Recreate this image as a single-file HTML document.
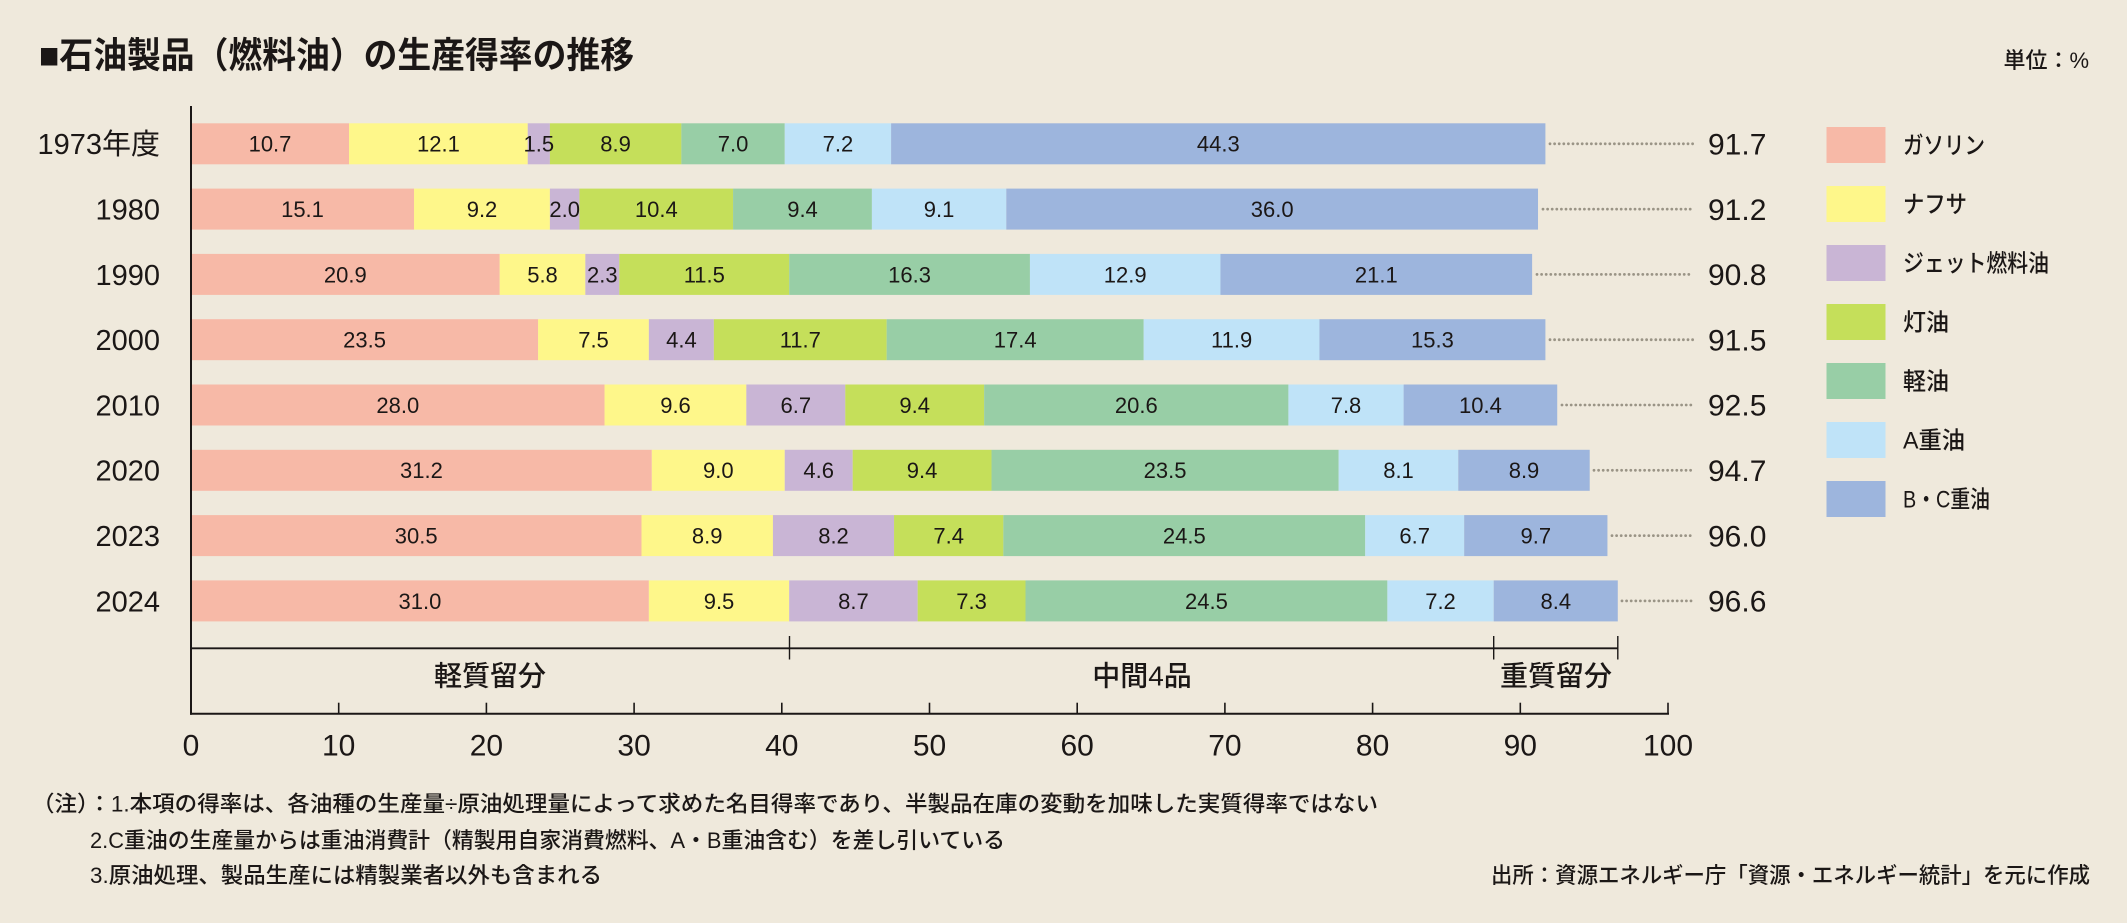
<!DOCTYPE html>
<html><head><meta charset="utf-8"><style>
html,body{margin:0;padding:0;background:#efe9dc;}
svg{display:block;}
text{font-family:"Liberation Sans","Noto Sans CJK JP",sans-serif;fill:#1b1716;}
.cj{font-family:"Liberation Sans","Noto Sans CJK JP",sans-serif;font-weight:500;}
.bl{font-size:22px;text-anchor:middle;}
.rl{font-size:29px;text-anchor:end;}
.tot{font-size:30px;}
.tk{font-size:30px;text-anchor:middle;}
</style></head><body>
<svg width="2127" height="923" viewBox="0 0 2127 923" xmlns="http://www.w3.org/2000/svg">
<rect width="2127" height="923" fill="#efe9dc"/>
<text x="39" y="67.5" font-size="36" font-weight="700" textLength="595" lengthAdjust="spacingAndGlyphs" class="cj" style="font-weight:700">■石油製品（燃料油）の生産得率の推移</text>
<text x="2089" y="68" font-size="22" text-anchor="end" class="cj">単位：%</text>

<g>
<!-- Row 0 -->
<rect x="191" y="123.3" width="158.04" height="41" fill="#f7b9a7"/>
<rect x="349.04" y="123.3" width="178.72" height="41" fill="#fef78a"/>
<rect x="527.76" y="123.3" width="22.15" height="41" fill="#c9b5d5"/>
<rect x="549.91" y="123.3" width="131.45" height="41" fill="#c5df5a"/>
<rect x="681.36" y="123.3" width="103.39" height="41" fill="#98cea6"/>
<rect x="784.75" y="123.3" width="106.35" height="41" fill="#bfe3f8"/>
<rect x="891.10" y="123.3" width="654.31" height="41" fill="#9db5dd"/>
<!-- Row 1 -->
<rect x="191" y="188.6" width="223.03" height="41" fill="#f7b9a7"/>
<rect x="414.03" y="188.6" width="135.88" height="41" fill="#fef78a"/>
<rect x="549.91" y="188.6" width="29.54" height="41" fill="#c9b5d5"/>
<rect x="579.45" y="188.6" width="153.61" height="41" fill="#c5df5a"/>
<rect x="733.06" y="188.6" width="138.84" height="41" fill="#98cea6"/>
<rect x="871.90" y="188.6" width="134.40" height="41" fill="#bfe3f8"/>
<rect x="1006.30" y="188.6" width="531.72" height="41" fill="#9db5dd"/>
<!-- Row 2 -->
<rect x="191" y="253.9" width="308.69" height="41" fill="#f7b9a7"/>
<rect x="499.69" y="253.9" width="85.67" height="41" fill="#fef78a"/>
<rect x="585.36" y="253.9" width="33.97" height="41" fill="#c9b5d5"/>
<rect x="619.33" y="253.9" width="169.86" height="41" fill="#c5df5a"/>
<rect x="789.19" y="253.9" width="240.75" height="41" fill="#98cea6"/>
<rect x="1029.94" y="253.9" width="190.53" height="41" fill="#bfe3f8"/>
<rect x="1220.47" y="253.9" width="311.65" height="41" fill="#9db5dd"/>
<!-- Row 3 -->
<rect x="191" y="319.2" width="347.10" height="41" fill="#f7b9a7"/>
<rect x="538.10" y="319.2" width="110.77" height="41" fill="#fef78a"/>
<rect x="648.87" y="319.2" width="64.99" height="41" fill="#c9b5d5"/>
<rect x="713.86" y="319.2" width="172.81" height="41" fill="#c5df5a"/>
<rect x="886.67" y="319.2" width="257.00" height="41" fill="#98cea6"/>
<rect x="1143.67" y="319.2" width="175.76" height="41" fill="#bfe3f8"/>
<rect x="1319.43" y="319.2" width="225.98" height="41" fill="#9db5dd"/>
<!-- Row 4 -->
<rect x="191" y="384.5" width="413.56" height="41" fill="#f7b9a7"/>
<rect x="604.56" y="384.5" width="141.79" height="41" fill="#fef78a"/>
<rect x="746.35" y="384.5" width="98.96" height="41" fill="#c9b5d5"/>
<rect x="845.31" y="384.5" width="138.84" height="41" fill="#c5df5a"/>
<rect x="984.15" y="384.5" width="304.26" height="41" fill="#98cea6"/>
<rect x="1288.41" y="384.5" width="115.21" height="41" fill="#bfe3f8"/>
<rect x="1403.62" y="384.5" width="153.61" height="41" fill="#9db5dd"/>
<!-- Row 5 -->
<rect x="191" y="449.8" width="460.82" height="41" fill="#f7b9a7"/>
<rect x="651.82" y="449.8" width="132.93" height="41" fill="#fef78a"/>
<rect x="784.75" y="449.8" width="67.95" height="41" fill="#c9b5d5"/>
<rect x="852.70" y="449.8" width="138.83" height="41" fill="#c5df5a"/>
<rect x="991.53" y="449.8" width="347.10" height="41" fill="#98cea6"/>
<rect x="1338.63" y="449.8" width="119.64" height="41" fill="#bfe3f8"/>
<rect x="1458.27" y="449.8" width="131.45" height="41" fill="#9db5dd"/>
<!-- Row 6 -->
<rect x="191" y="515.1" width="450.49" height="41" fill="#f7b9a7"/>
<rect x="641.49" y="515.1" width="131.45" height="41" fill="#fef78a"/>
<rect x="772.94" y="515.1" width="121.11" height="41" fill="#c9b5d5"/>
<rect x="894.05" y="515.1" width="109.30" height="41" fill="#c5df5a"/>
<rect x="1003.35" y="515.1" width="361.87" height="41" fill="#98cea6"/>
<rect x="1365.22" y="515.1" width="98.95" height="41" fill="#bfe3f8"/>
<rect x="1464.17" y="515.1" width="143.27" height="41" fill="#9db5dd"/>
<!-- Row 7 -->
<rect x="191" y="580.4" width="457.87" height="41" fill="#f7b9a7"/>
<rect x="648.87" y="580.4" width="140.32" height="41" fill="#fef78a"/>
<rect x="789.19" y="580.4" width="128.49" height="41" fill="#c9b5d5"/>
<rect x="917.68" y="580.4" width="107.83" height="41" fill="#c5df5a"/>
<rect x="1025.51" y="580.4" width="361.86" height="41" fill="#98cea6"/>
<rect x="1387.37" y="580.4" width="106.34" height="41" fill="#bfe3f8"/>
<rect x="1493.71" y="580.4" width="124.07" height="41" fill="#9db5dd"/>
</g>

<!-- bar labels -->
<g class="bl">
<text class="bl" x="270.0" y="151.7">10.7</text><text class="bl" x="438.4" y="151.7">12.1</text><text class="bl" x="538.8" y="151.7">1.5</text><text class="bl" x="615.6" y="151.7">8.9</text><text class="bl" x="733.1" y="151.7">7.0</text><text class="bl" x="837.9" y="151.7">7.2</text><text class="bl" x="1218.3" y="151.7">44.3</text>
<text class="bl" x="302.5" y="217.0">15.1</text><text class="bl" x="482.0" y="217.0">9.2</text><text class="bl" x="564.7" y="217.0">2.0</text><text class="bl" x="656.3" y="217.0">10.4</text><text class="bl" x="802.5" y="217.0">9.4</text><text class="bl" x="939.1" y="217.0">9.1</text><text class="bl" x="1272.2" y="217.0">36.0</text>
<text class="bl" x="345.3" y="282.3">20.9</text><text class="bl" x="542.5" y="282.3">5.8</text><text class="bl" x="602.3" y="282.3">2.3</text><text class="bl" x="704.3" y="282.3">11.5</text><text class="bl" x="909.6" y="282.3">16.3</text><text class="bl" x="1125.2" y="282.3">12.9</text><text class="bl" x="1376.3" y="282.3">21.1</text>
<text class="bl" x="364.6" y="347.6">23.5</text><text class="bl" x="593.5" y="347.6">7.5</text><text class="bl" x="681.4" y="347.6">4.4</text><text class="bl" x="800.3" y="347.6">11.7</text><text class="bl" x="1015.2" y="347.6">17.4</text><text class="bl" x="1231.6" y="347.6">11.9</text><text class="bl" x="1432.4" y="347.6">15.3</text>
<text class="bl" x="397.8" y="412.9">28.0</text><text class="bl" x="675.5" y="412.9">9.6</text><text class="bl" x="795.8" y="412.9">6.7</text><text class="bl" x="914.7" y="412.9">9.4</text><text class="bl" x="1136.3" y="412.9">20.6</text><text class="bl" x="1346.0" y="412.9">7.8</text><text class="bl" x="1480.4" y="412.9">10.4</text>
<text class="bl" x="421.4" y="478.2">31.2</text><text class="bl" x="718.3" y="478.2">9.0</text><text class="bl" x="818.7" y="478.2">4.6</text><text class="bl" x="922.1" y="478.2">9.4</text><text class="bl" x="1165.1" y="478.2">23.5</text><text class="bl" x="1398.5" y="478.2">8.1</text><text class="bl" x="1524.0" y="478.2">8.9</text>
<text class="bl" x="416.2" y="543.5">30.5</text><text class="bl" x="707.2" y="543.5">8.9</text><text class="bl" x="833.5" y="543.5">8.2</text><text class="bl" x="948.7" y="543.5">7.4</text><text class="bl" x="1184.3" y="543.5">24.5</text><text class="bl" x="1414.7" y="543.5">6.7</text><text class="bl" x="1535.8" y="543.5">9.7</text>
<text class="bl" x="419.9" y="608.8">31.0</text><text class="bl" x="719.0" y="608.8">9.5</text><text class="bl" x="853.4" y="608.8">8.7</text><text class="bl" x="971.6" y="608.8">7.3</text><text class="bl" x="1206.4" y="608.8">24.5</text><text class="bl" x="1440.5" y="608.8">7.2</text><text class="bl" x="1555.8" y="608.8">8.4</text>
</g>

<!-- row labels -->
<text class="rl" x="160" y="154.2">1973年度</text>
<text class="rl" x="160" y="219.5">1980</text>
<text class="rl" x="160" y="284.8">1990</text>
<text class="rl" x="160" y="350.1">2000</text>
<text class="rl" x="160" y="415.4">2010</text>
<text class="rl" x="160" y="480.7">2020</text>
<text class="rl" x="160" y="546.0">2023</text>
<text class="rl" x="160" y="611.3">2024</text>

<!-- leaders -->
<g stroke="#9a9486" stroke-width="2.8" stroke-linecap="round" stroke-dasharray="0 4.6" fill="none">
<line x1="1550" y1="143.8" x2="1693" y2="143.8"/>
<line x1="1543" y1="209.1" x2="1693" y2="209.1"/>
<line x1="1537" y1="274.4" x2="1693" y2="274.4"/>
<line x1="1550" y1="339.7" x2="1693" y2="339.7"/>
<line x1="1562" y1="405.0" x2="1693" y2="405.0"/>
<line x1="1594" y1="470.3" x2="1693" y2="470.3"/>
<line x1="1612" y1="535.6" x2="1693" y2="535.6"/>
<line x1="1622" y1="600.9" x2="1693" y2="600.9"/>
</g>

<!-- totals -->
<text class="tot" x="1708" y="154.5">91.7</text>
<text class="tot" x="1708" y="219.8">91.2</text>
<text class="tot" x="1708" y="285.1">90.8</text>
<text class="tot" x="1708" y="350.4">91.5</text>
<text class="tot" x="1708" y="415.7">92.5</text>
<text class="tot" x="1708" y="481.0">94.7</text>
<text class="tot" x="1708" y="546.3">96.0</text>
<text class="tot" x="1708" y="611.6">96.6</text>

<!-- axes -->
<g stroke="#1b1716" fill="none">
<line x1="191" y1="106" x2="191" y2="714.7" stroke-width="2"/>
<line x1="190" y1="713.7" x2="1669" y2="713.7" stroke-width="2"/>
<line x1="338.7" y1="702.7" x2="338.7" y2="713.7" stroke-width="1.6"/>
<line x1="486.4" y1="702.7" x2="486.4" y2="713.7" stroke-width="1.6"/>
<line x1="634.1" y1="702.7" x2="634.1" y2="713.7" stroke-width="1.6"/>
<line x1="781.8" y1="702.7" x2="781.8" y2="713.7" stroke-width="1.6"/>
<line x1="929.5" y1="702.7" x2="929.5" y2="713.7" stroke-width="1.6"/>
<line x1="1077.2" y1="702.7" x2="1077.2" y2="713.7" stroke-width="1.6"/>
<line x1="1224.9" y1="702.7" x2="1224.9" y2="713.7" stroke-width="1.6"/>
<line x1="1372.6" y1="702.7" x2="1372.6" y2="713.7" stroke-width="1.6"/>
<line x1="1520.3" y1="702.7" x2="1520.3" y2="713.7" stroke-width="1.6"/>
<line x1="1668" y1="702.7" x2="1668" y2="713.7" stroke-width="1.6"/>
<!-- bracket -->
<line x1="191" y1="648.3" x2="1618" y2="648.3" stroke-width="1.8"/>
<line x1="789.5" y1="636" x2="789.5" y2="659.5" stroke-width="1.4"/>
<line x1="1493.7" y1="636" x2="1493.7" y2="659.5" stroke-width="1.4"/>
<line x1="1617.8" y1="636" x2="1617.8" y2="659.5" stroke-width="1.4"/>
</g>

<text x="490" y="685.5" font-size="28" text-anchor="middle" class="cj">軽質留分</text>
<text x="1142" y="685.5" font-size="28" text-anchor="middle" class="cj">中間4品</text>
<text x="1556" y="685.5" font-size="28" text-anchor="middle" class="cj">重質留分</text>

<!-- tick labels -->
<text class="tk" x="191" y="755.5">0</text>
<text class="tk" x="338.7" y="755.5">10</text>
<text class="tk" x="486.4" y="755.5">20</text>
<text class="tk" x="634.1" y="755.5">30</text>
<text class="tk" x="781.8" y="755.5">40</text>
<text class="tk" x="929.5" y="755.5">50</text>
<text class="tk" x="1077.2" y="755.5">60</text>
<text class="tk" x="1224.9" y="755.5">70</text>
<text class="tk" x="1372.6" y="755.5">80</text>
<text class="tk" x="1520.3" y="755.5">90</text>
<text class="tk" x="1668" y="755.5">100</text>

<!-- legend -->
<rect x="1826.5" y="127" width="59" height="36" fill="#f7b9a7"/>
<rect x="1826.5" y="186" width="59" height="36" fill="#fef78a"/>
<rect x="1826.5" y="245" width="59" height="36" fill="#c9b5d5"/>
<rect x="1826.5" y="304" width="59" height="36" fill="#c5df5a"/>
<rect x="1826.5" y="363" width="59" height="36" fill="#98cea6"/>
<rect x="1826.5" y="422" width="59" height="36" fill="#bfe3f8"/>
<rect x="1826.5" y="481" width="59" height="36" fill="#9db5dd"/>
<g font-size="24">
<text class="cj" x="1903" y="153.5" font-size="24" textLength="82" lengthAdjust="spacingAndGlyphs">ガソリン</text>
<text class="cj" x="1903" y="212.5" font-size="24" textLength="64" lengthAdjust="spacingAndGlyphs">ナフサ</text>
<text class="cj" x="1903" y="271.5" font-size="24" textLength="146" lengthAdjust="spacingAndGlyphs">ジェット燃料油</text>
<text class="cj" x="1903" y="330.5" font-size="24" textLength="46" lengthAdjust="spacingAndGlyphs">灯油</text>
<text class="cj" x="1903" y="389.5" font-size="24" textLength="46" lengthAdjust="spacingAndGlyphs">軽油</text>
<text class="cj" x="1903" y="448.5" font-size="24" textLength="62" lengthAdjust="spacingAndGlyphs">A重油</text>
<text class="cj" x="1903" y="507.5" font-size="24" textLength="87" lengthAdjust="spacingAndGlyphs">B・C重油</text>
</g>

<!-- notes -->
<text class="cj" x="32" y="811.5" font-size="22" textLength="1346" lengthAdjust="spacingAndGlyphs">（注）：1.本項の得率は、各油種の生産量÷原油処理量によって求めた名目得率であり、半製品在庫の変動を加味した実質得率ではない</text>
<text class="cj" x="90" y="848" font-size="22" textLength="915" lengthAdjust="spacingAndGlyphs">2.C重油の生産量からは重油消費計（精製用自家消費燃料、A・B重油含む）を差し引いている</text>
<text class="cj" x="90" y="883" font-size="22" textLength="512" lengthAdjust="spacingAndGlyphs">3.原油処理、製品生産には精製業者以外も含まれる</text>
<text class="cj" x="1491" y="883" font-size="22" textLength="599" lengthAdjust="spacingAndGlyphs">出所：資源エネルギー庁「資源・エネルギー統計」を元に作成</text>
</svg>
</body></html>
